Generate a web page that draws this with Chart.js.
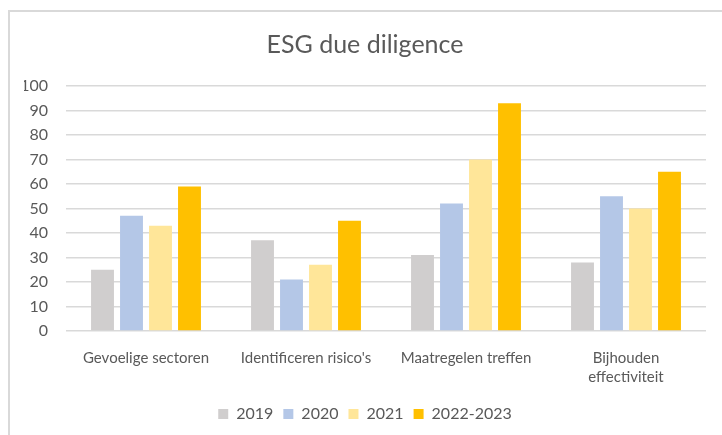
<!DOCTYPE html>
<html>
<head>
<meta charset="utf-8">
<script src="https://cdn.jsdelivr.net/npm/chart.js@4"></script>
<style>
  html, body { margin: 0; padding: 0; background: #fff; }
  #wrap { position: relative; width: 722px; height: 435px; overflow: hidden; }
  #frame { position: absolute; left: 8px; top: 10px; width: 730px; height: 440px;
           border-left: 2px solid #d9d9d9; border-top: 2px solid #d9d9d9; box-sizing: border-box; }
  canvas { position: absolute; left: 0; top: 0; }
</style>
</head>
<body>
<div id="wrap">
  <div id="frame"></div>
  <canvas id="c" width="722" height="435"></canvas>
</div>
<script>
const categories = ["Gevoelige sectoren", "Identificeren risico's", "Maatregelen treffen", ["Bijhouden", "effectiviteit"]];
const seriesNames = ["2019", "2020", "2021", "2022-2023"];
const values2019 = [25, 37, 31, 28];
const values2020 = [47, 21, 52, 55];
const values2021 = [43, 27, 70, 50];
const values2022 = [59, 45, 93, 65];
const colors = ["#d0cece", "#b4c7e7", "#ffe699", "#ffc000"];
const yMin = 0, yMax = 100, yStep = 10;

const FONT = "Lato, 'Noto Sans', sans-serif";
const TEXT = "#595959";
const allValues = [values2019, values2020, values2021, values2022];

new Chart(document.getElementById('c'), {
  type: 'bar',
  data: {
    labels: categories,
    datasets: seriesNames.map((n, i) => ({
      label: n,
      data: allValues[i],
      backgroundColor: colors[i],
      borderWidth: 0,
      categoryPercentage: 0.725,
      barPercentage: 0.79
    }))
  },
  options: {
    responsive: false,
    animation: false,
    devicePixelRatio: 1,
    layout: { padding: { left: 24, right: 16, top: 10, bottom: 3 } },
    plugins: {
      title: {
        display: true,
        text: 'ESG due diligence',
        color: TEXT,
        font: { family: FONT, size: 25, weight: 'normal' },
        padding: { top: 20, bottom: 26 }
      },
      legend: {
        position: 'bottom',
        labels: {
          color: TEXT,
          font: { family: FONT, size: 16 },
          boxWidth: 10,
          boxHeight: 10,
          padding: 10
        }
      },
      tooltip: { enabled: false }
    },
    scales: {
      x: {
        grid: { display: false },
        border: { display: false },
        ticks: {
          color: TEXT,
          font: { family: FONT, size: 15, lineHeight: 1.3 },
          maxRotation: 0,
          autoSkip: false,
          padding: 9
        }
      },
      y: {
        min: yMin,
        max: yMax,
        grid: { color: '#d9d9d9', lineWidth: 1.5, drawTicks: false },
        border: { display: false },
        afterFit: (s) => { s.width = 42; },
        ticks: {
          stepSize: yStep,
          color: TEXT,
          font: { family: FONT, size: 16 },
          padding: 18
        }
      }
    }
  }
});
</script>
</body>
</html>
